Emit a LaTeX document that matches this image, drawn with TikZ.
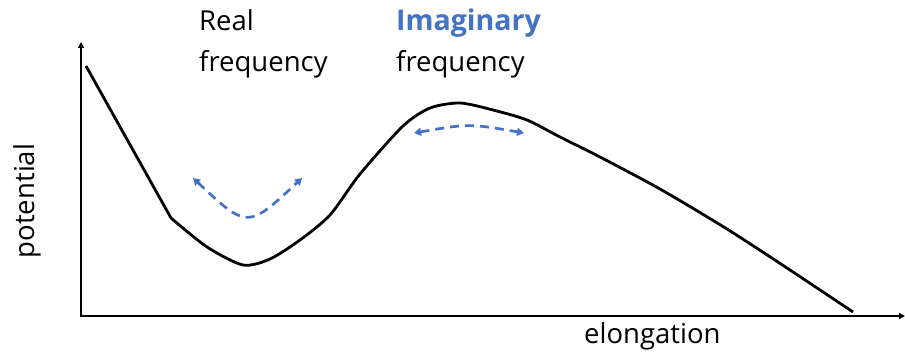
\documentclass[tikz,border=0pt]{standalone}
\usepackage{fontspec}
\setmainfont{Open Sans}
\usetikzlibrary{arrows.meta}
\definecolor{accent}{HTML}{4472C4}
\tikzset{
  axis/.style={line width=2.4pt,-{Triangle[length=6pt,width=6pt]}},
  curve/.style={line width=2.8pt,line join=round},
  osc/.style={accent,line width=2.7pt,dash pattern=on 9pt off 6pt,{Triangle[length=7pt,width=8pt]}-{Triangle[length=7pt,width=8pt]}},
  lbl/.style={font=\fontsize{27.5}{32}\selectfont,inner sep=0pt,anchor=base west}
}
\begin{document}
\begin{tikzpicture}[x=1pt,y=-1pt]
\useasboundingbox (0,0) rectangle (905,355);
% axes
\coordinate (ytop) at (81,42);
\coordinate (xend) at (905,316);
\draw[axis] (81,317.2) -- (ytop);
\draw[axis] (80,316) -- (xend);
% potential curve
\draw[curve] (86,66) -- (171,218)
  plot[smooth,tension=0.45] coordinates {(171,218) (207,247) (243,265) (270,259) (300,240) (330,215) (360,174) (403,126) (430,108) (460,103) (493,110) (527,120) (560,137) (600,157) (660,189) (727,229) (790,270) (853,312)};
% oscillation arrows
\coordinate (l1) at (193,178);
\coordinate (l2) at (302,178);
\draw[osc] (l1) .. controls (247.5,229) .. (l2);
\coordinate (t1) at (414,133);
\coordinate (t2) at (524,133);
\draw[osc] (t1) .. controls (469,123.5) .. (t2);
% labels
\node[lbl] (real) at (199,31) {Real};
\node[lbl] (rfreq) at (199,72) {frequency};
\node[lbl,text=accent,font=\fontsize{28.5}{32}\selectfont\bfseries] (imag) at (396,31) {Imaginary};
\node[lbl] (ifreq) at (396,72) {frequency};
\node[font=\fontsize{27.5}{32}\selectfont,inner sep=0pt,rotate=90] (pot) at (27,201) {potential};
\node[lbl] (elong) at (584,343) {elongation};
\end{tikzpicture}
\end{document}
